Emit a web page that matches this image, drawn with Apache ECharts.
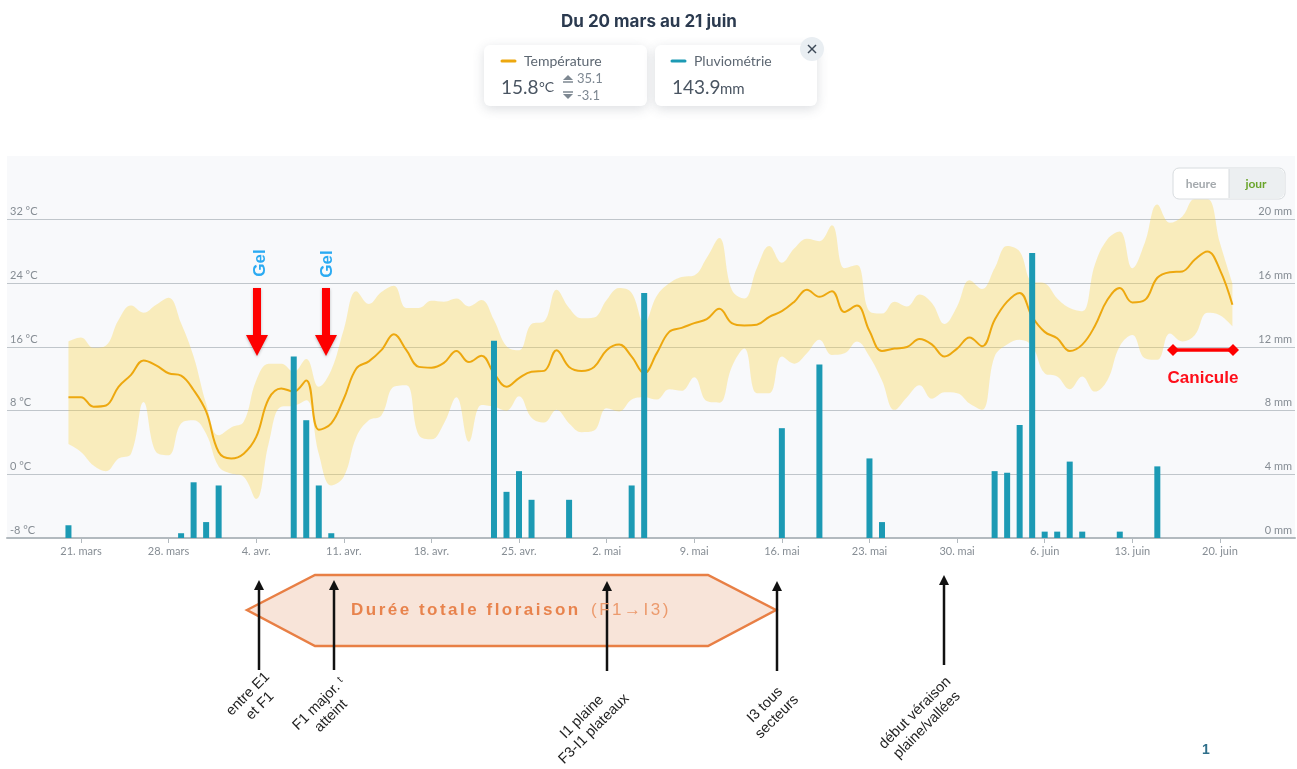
<!DOCTYPE html>
<html>
<head>
<meta charset="utf-8">
<title>Température et pluviométrie</title>
<script src="https://cdn.jsdelivr.net/npm/echarts@6/dist/echarts.min.js"></script>
<style>
  html, body { margin: 0; padding: 0; background: #fff; }
  #wrap { position: relative; width: 1297px; height: 769px; overflow: hidden; }
  #chart { width: 1297px; height: 769px; }
  #floraison { position: absolute; left: 351px; top: 599px; height: 22px; line-height: 22px; white-space: nowrap;
    font-family: "Liberation Sans", Arial, sans-serif; font-size: 17px; letter-spacing: 2.5px; color: #e8834d; font-weight: bold; }
  #floraison span { font-weight: normal; color: #ec9a6d; margin-left: 3px; }
</style>
</head>
<body>
<div id="wrap">
  <div id="chart"></div>
  <div id="floraison">Durée totale floraison <span>(F1→I3)</span></div>
</div>
<script>
// one value per day, day 0 = 20 mars
const tempMean = [9.7,9.7,8.5,8.65,11.0,12.5,14.3,13.7,12.7,12.4,10.6,7.9,2.8,2.0,2.6,4.7,9.5,10.8,10.4,11.8,5.6,6.4,9.5,13.3,14.2,15.6,17.6,15.6,13.5,13.4,
  14.0,15.5,14.1,14.9,12.7,11.0,12.1,12.9,13.0,15.6,13.5,13.0,13.5,15.6,16.3,14.8,12.7,15.2,17.9,18.4,19.0,19.5,20.8,19.0,18.7,18.8,19.8,20.5,21.7,23.2,
  22.3,23.0,20.4,21.2,18.0,15.5,15.8,16.0,17.0,16.3,14.8,15.8,17.2,16.1,19.4,21.7,22.8,19.8,17.9,17.1,15.5,16.3,18.6,21.9,23.4,21.6,21.9,24.7,25.4,25.5,
  27.0,28.0,25.7,21.3];
const tempMax = [16.7,17.2,15.9,16.2,19.4,21.2,20.3,21.3,22.2,19.0,14.8,8.9,4.9,5.9,6.6,11.8,13.9,13.9,12.9,14.5,11.0,13.1,18.2,23.0,21.4,22.9,23.7,20.9,20.9,21.8,
  21.7,22.1,21.1,21.9,19.4,16.1,15.6,18.9,19.2,23.2,20.9,19.6,19.7,21.9,23.4,22.8,19.0,22.4,24.0,24.8,25.0,27.2,29.7,23.2,22.1,25.9,28.7,26.6,28.4,29.6,
  29.3,31.3,25.9,26.3,20.5,20.2,21.7,21.1,22.6,21.5,18.9,21.1,24.4,23.3,25.9,28.7,28.0,24.2,24.0,22.1,20.9,20.5,26.3,29.5,30.5,25.9,29.1,33.9,31.6,32.4,
  34.6,34.6,29.1,24.0];
const tempMin = [3.8,2.8,1.1,0.4,2.0,2.6,9.1,2.8,2.4,6.4,6.8,5.1,1.0,0.1,-0.3,-3.1,3.9,8.5,8.6,9.3,2.6,-1.4,-0.3,4.7,6.8,7.4,11.0,11.2,4.9,4.4,
  6.4,9.7,4.1,8.7,8.5,8.0,9.8,7.1,6.5,8.1,6.4,5.3,5.5,8.3,7.9,9.4,9.7,9.4,10.7,10.5,12.2,9.2,9.0,13.5,15.8,10.2,10.2,14.8,13.9,15.2,
  16.9,15.0,15.2,16.7,14.8,11.8,8.1,9.7,11.2,9.5,10.3,10.2,8.9,8.1,14.8,16.3,16.9,16.1,12.7,12.3,10.7,12.3,10.4,11.8,16.1,17.5,14.6,14.4,17.7,16.7,
  17.5,20.3,20.0,18.6];

const rainDays = [0,9,10,11,12,18,19,20,21,34,35,36,37,40,45,46,57,60,64,65,74,75,76,77,78,79,80,81,84,87];
const rainMm = [0.8,0.3,3.5,1.0,3.3,11.4,7.4,3.3,0.3,12.4,2.9,4.2,2.4,2.4,3.3,15.4,6.9,10.9,5.0,1.0,4.2,4.1,7.1,17.9,0.4,0.4,4.8,0.4,0.4,4.5];

const tickDays = [1,8,15,22,29,36,43,50,57,64,71,78,85,92];
const tickLabels = ['21. mars','28. mars','4. avr.','11. avr.','18. avr.','25. avr.','2. mai','9. mai','16. mai','23. mai','30. mai','6. juin','13. juin','20. juin'];

const ORANGE = '#eda80f';
const TEAL = '#1c9ab4';
const UI_FONT = 'Lato, "Open Sans", sans-serif';
const NOTE_FONT = '"Liberation Sans", Arial, sans-serif';

const X_MIN = -4.91;
const X_MAX = 98;

// lines sit on a hidden time axis, on a value x axis the band stack is computed on x
const DAY_MS = 86400000;
const FIRST_DAY = Date.UTC(2022, 2, 20);
const dayToTime = d => FIRST_DAY + d * DAY_MS;

const days = tempMean.map((v, i) => i);
const timePairs = (xs, ys) => xs.map((x, i) => [dayToTime(x), ys[i]]);
const bandSize = tempMax.map((v, i) => +(v - tempMin[i]).toFixed(1));

function txt(x, y, text, size, color, extra) {
  return {
    type: 'text', x: x, y: y, z: 30, silent: true,
    style: Object.assign({
      text: text, fontSize: size, fill: color, fontFamily: UI_FONT,
      align: 'left', verticalAlign: 'middle'
    }, extra || {})
  };
}

function card(x, w) {
  return {
    type: 'rect', z: 10, silent: true,
    shape: { x: x, y: 45, width: w, height: 61, r: 6 },
    style: { fill: '#fff', shadowBlur: 12, shadowColor: 'rgba(60,70,90,0.18)', shadowOffsetY: 3 }
  };
}

function legendDash(x, color) {
  return {
    type: 'line', z: 20, silent: true,
    shape: { x1: x, y1: 61, x2: x + 13, y2: 61 },
    style: { stroke: color, lineWidth: 3, lineCap: 'round' }
  };
}

function minMaxIcon(y, up) {
  const tip = up ? y - 4 : y + 4;
  const base = up ? y + 1 : y - 1;
  const bar = up ? y + 3 : y - 3;
  return [
    { type: 'polygon', z: 20, silent: true, shape: { points: [[563, base], [573, base], [568, tip]] }, style: { fill: '#7d8791' } },
    { type: 'line', z: 20, silent: true, shape: { x1: 563, y1: bar, x2: 573, y2: bar }, style: { stroke: '#7d8791', lineWidth: 1.5 } }
  ];
}

function redArrow(x) {
  return {
    type: 'polygon', z: 20, silent: true,
    shape: { points: [[x - 4, 288], [x + 4, 288], [x + 4, 335], [x + 11, 335], [x, 356], [x - 11, 335], [x - 4, 335]] },
    style: { fill: '#fe0000', shadowBlur: 3, shadowColor: 'rgba(0,0,0,0.25)', shadowOffsetY: 1 }
  };
}

function blackArrow(x, top, bottom) {
  return [
    { type: 'line', z: 22, silent: true, shape: { x1: x, y1: top + 6, x2: x, y2: bottom }, style: { stroke: '#111', lineWidth: 2.5 } },
    { type: 'polygon', z: 22, silent: true, shape: { points: [[x - 5, top + 10], [x + 5, top + 10], [x, top]] }, style: { fill: '#111' } }
  ];
}

function note(x, y, text) {
  return {
    type: 'text', x: x, y: y, rotation: Math.PI / 4, z: 20, silent: true,
    style: { text: text, fontSize: 14.5, lineHeight: 17, fill: '#222', fontFamily: NOTE_FONT, align: 'center', verticalAlign: 'middle' }
  };
}

const graphics = [
  // cartes du haut
  card(484, 163),
  card(655, 162),
  legendDash(502, ORANGE),
  legendDash(672, TEAL),
  txt(524, 61, 'Température', 14, '#5d6772'),
  txt(694, 61, 'Pluviométrie', 14, '#5d6772'),
  txt(501, 88, '15.8', 19, '#4a5562'),
  txt(539, 87, '°C', 14, '#4a5562'),
  txt(577, 79, '35.1', 13, '#7d8791'),
  txt(577, 96, '-3.1', 13, '#7d8791'),
  ...minMaxIcon(79, true),
  ...minMaxIcon(95, false),
  txt(672, 88, '143.9', 19, '#4a5562'),
  txt(720, 89, 'mm', 15, '#4a5562'),
  { type: 'circle', z: 21, silent: true, shape: { cx: 812, cy: 49, r: 12 }, style: { fill: '#e9eef2' } },
  { type: 'line', z: 22, silent: true, shape: { x1: 808, y1: 45, x2: 816, y2: 53 }, style: { stroke: '#3d4957', lineWidth: 1.5 } },
  { type: 'line', z: 22, silent: true, shape: { x1: 816, y1: 45, x2: 808, y2: 53 }, style: { stroke: '#3d4957', lineWidth: 1.5 } },

  // bouton heure / jour
  { type: 'rect', z: 20, silent: true, shape: { x: 1173, y: 168, width: 112, height: 31, r: 6 }, style: { fill: '#fff', stroke: '#d8dcdf', lineWidth: 1 } },
  { type: 'rect', z: 21, silent: true, shape: { x: 1229, y: 169, width: 55, height: 29, r: [0, 5, 5, 0] }, style: { fill: '#eceff1' } },
  { type: 'line', z: 22, silent: true, shape: { x1: 1229, y1: 169, x2: 1229, y2: 198 }, style: { stroke: '#d8dcdf', lineWidth: 1 } },
  txt(1201, 184, 'heure', 12, '#a4a9ad', { align: 'center', fontWeight: 'bold' }),
  txt(1256, 184, 'jour', 12, '#6aa52b', { align: 'center', fontWeight: 'bold' }),

  // gel
  redArrow(257),
  redArrow(326),
  { type: 'text', x: 260, y: 263, rotation: Math.PI / 2, z: 20, silent: true,
    style: { text: 'Gel', fontSize: 17, fontWeight: 'bold', fill: '#2aaaf2', fontFamily: NOTE_FONT, align: 'center', verticalAlign: 'middle' } },
  { type: 'text', x: 327, y: 264, rotation: Math.PI / 2, z: 20, silent: true,
    style: { text: 'Gel', fontSize: 17, fontWeight: 'bold', fill: '#2aaaf2', fontFamily: NOTE_FONT, align: 'center', verticalAlign: 'middle' } },

  // canicule
  { type: 'line', z: 20, silent: true, shape: { x1: 1172, y1: 350, x2: 1234, y2: 350 }, style: { stroke: '#fe0000', lineWidth: 3.5 } },
  { type: 'polygon', z: 20, silent: true, shape: { points: [[1167, 350], [1173, 344], [1179, 350], [1173, 356]] }, style: { fill: '#fe0000' } },
  { type: 'polygon', z: 20, silent: true, shape: { points: [[1227, 350], [1233, 344], [1239, 350], [1233, 356]] }, style: { fill: '#fe0000' } },
  txt(1203, 378, 'Canicule', 17, '#fe0f1a', { align: 'center', fontWeight: 'bold', fontFamily: NOTE_FONT }),

  // floraison
  { type: 'polygon', z: 15, silent: true,
    shape: { points: [[247, 610], [315, 575], [708, 575], [776, 610], [708, 646], [315, 646]] },
    style: { fill: '#f8e4d9', stroke: '#e87f45', lineWidth: 2.5 } },

  ...blackArrow(259, 580, 670),
  ...blackArrow(334, 580, 670),
  ...blackArrow(607, 581, 671),
  ...blackArrow(777, 581, 671),
  ...blackArrow(944, 575, 665),

  note(254, 700, 'entre E1\net F1'),
  note(325, 710, 'F1 major. ᵗ\natteint'),
  note(588, 723, 'I1 plaine\nF3-I1 plateaux'),
  note(771, 711, 'I3 tous\nsecteurs'),
  note(921, 719, 'début véraison\nplaine/vallées'),

  txt(1206, 750, '1', 14, '#2f6f8a', { align: 'center', fontFamily: NOTE_FONT, fontWeight: 'bold' })
];

const chart = echarts.init(document.getElementById('chart'));

const option = {
  animation: false,
  backgroundColor: '#fff',
  title: {
    text: 'Du 20 mars au 21 juin',
    left: 556, top: 8,
    textStyle: { fontSize: 17, fontWeight: 'bold', color: '#2b3a4f', fontFamily: 'Inter, sans-serif' }
  },
  grid: {
    left: 7, right: 2, top: 156, bottom: 231,
    show: true, backgroundColor: '#f8f9fb', borderWidth: 0
  },
  xAxis: [
    {
      type: 'value',
      position: 'bottom',
      min: X_MIN,
      max: X_MAX,
      splitLine: { show: false },
      axisLine: { show: true, onZero: false, lineStyle: { color: '#b3babf', width: 2 } },
      axisTick: { show: true, customValues: tickDays, length: 5, lineStyle: { color: '#b3babf' } },
      axisLabel: {
        customValues: tickDays,
        margin: 8,
        fontSize: 11,
        color: '#868d94',
        fontFamily: UI_FONT,
        formatter: function (value) { return tickLabels[tickDays.indexOf(value)]; }
      }
    },
    {
      type: 'time',
      show: false,
      min: dayToTime(X_MIN),
      max: dayToTime(X_MAX)
    }
  ],
  yAxis: [
    {
      type: 'value', min: -8, max: 40, interval: 8,
      axisLine: { show: false },
      axisTick: { show: false },
      splitLine: { show: true, showMaxLine: false, lineStyle: { color: '#c0c6cb', width: 1 } },
      axisLabel: {
        inside: true, margin: 3, fontSize: 11, color: '#868d94', fontFamily: UI_FONT, verticalAlign: 'bottom', lineHeight: 16,
        formatter: function (v) { return v === 40 ? '' : v + ' °C'; }
      }
    },
    {
      type: 'value', min: 0, max: 24, interval: 4, position: 'right',
      axisLine: { show: false },
      axisTick: { show: false },
      splitLine: { show: false },
      axisLabel: {
        inside: true, margin: 3, fontSize: 11, color: '#868d94', fontFamily: UI_FONT, verticalAlign: 'bottom', lineHeight: 16,
        formatter: function (v) { return v === 24 ? '' : v + ' mm'; }
      }
    }
  ],
  series: [
    {
      name: 'min',
      type: 'line',
      xAxisIndex: 1,
      stack: 'band',
      stackStrategy: 'all',
      smooth: 0.4,
      symbol: 'none',
      lineStyle: { width: 0, opacity: 0 },
      data: timePairs(days, tempMin),
      z: 2
    },
    {
      name: 'amplitude',
      type: 'line',
      xAxisIndex: 1,
      stack: 'band',
      stackStrategy: 'all',
      smooth: 0.4,
      symbol: 'none',
      lineStyle: { width: 0, opacity: 0 },
      areaStyle: { color: '#fdd23c', opacity: 0.33 },
      data: timePairs(days, bandSize),
      z: 2
    },
    {
      name: 'Température',
      type: 'line',
      xAxisIndex: 1,
      smooth: 0.4,
      symbol: 'none',
      lineStyle: { color: ORANGE, width: 2 },
      data: timePairs(days, tempMean),
      z: 3
    },
    {
      name: 'Pluviométrie',
      type: 'bar',
      xAxisIndex: 0,
      yAxisIndex: 1,
      barWidth: 6,
      itemStyle: { color: TEAL },
      data: rainDays.map((d, i) => [d, rainMm[i]]),
      z: 4
    }
  ],
  graphic: { elements: graphics }
};

chart.setOption(option);
</script>
</body>
</html>
